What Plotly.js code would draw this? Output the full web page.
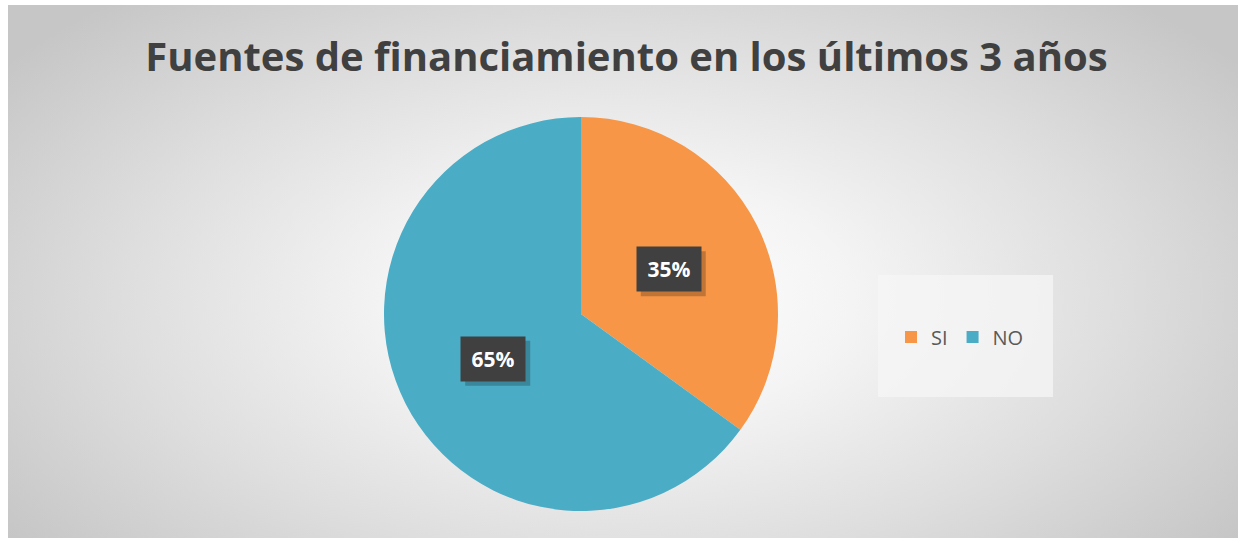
<!DOCTYPE html>
<html>
<head>
<meta charset="utf-8">
<script src="https://cdn.plot.ly/plotly-3.0.1.min.js"></script>
<style>
  html, body { margin: 0; padding: 0; background: #ffffff; }
  #wrap { position: relative; width: 1238px; height: 538px; overflow: hidden; }
  #bg { position: absolute; left: 8px; top: 5px; width: 1230px; height: 533px;
        background: radial-gradient(ellipse 62% 75% at 50% 55%, #ffffff 0%, #f4f4f4 30%, #dedede 65%, #c6c6c6 100%); }
  #chart { position: absolute; left: 0; top: 0; width: 1238px; height: 538px; }
</style>
</head>
<body>
<div id="wrap">
  <div id="bg"></div>
  <div id="chart"></div>
</div>
<script>
const categories = ["SI", "NO"];
const values = [35, 65];
const colors = ["#F79646", "#4BACC6"];
const titleText = "Fuentes de financiamiento en los últimos 3 años";

const W = 1238, H = 538;
const dom = { x: [384 / W, 778 / W], y: [1 - 511 / H, 1 - 117 / H] };

// label annotations computed from data (mid-angle of each slice at half radius)
const total = values.reduce((a, b) => a + b, 0);
const cx = (dom.x[0] + dom.x[1]) / 2 * W;
const cy = (1 - (dom.y[0] + dom.y[1]) / 2) * H;
const R = (dom.x[1] - dom.x[0]) * W / 2;
const annotations = [];
const shapes = [{ type: "rect", xref: "paper", yref: "paper", x0: 878 / W, x1: 1053 / W, y0: 1 - 397 / H, y1: 1 - 275 / H,
                  fillcolor: "rgba(245,245,245,0.75)", line: { width: 0 }, layer: "below" }];
let cum = 0;
values.forEach((v, i) => {
  const mid = (cum + v / 2) / total * 2 * Math.PI;
  cum += v;
  const px = cx + 0.5 * R * Math.sin(mid);
  const py = cy - 0.5 * R * Math.cos(mid);
  const pct = Math.round(v / total * 100) + "%";
  // soft shadow box
  shapes.push({ type: "rect", xref: "paper", yref: "paper", layer: "above",
    x0: (px - 32 + 4) / W, x1: (px + 32 + 5) / W, y0: 1 - (py + 22 + 5) / H, y1: 1 - (py - 22 + 4) / H,
    fillcolor: "rgba(0,0,0,0.22)", line: { width: 0 } });
  annotations.push({ x: px / W, y: 1 - py / H, xref: "paper", yref: "paper", showarrow: false,
                 xanchor: "center", yanchor: "middle",
                 text: pct, borderpad: 9, width: 46, height: 26, bgcolor: "#404040",
                 font: { family: "Open Sans, sans-serif", size: 21, color: "#ffffff", weight: "bold" } });
});

const data = [{
  type: "pie",
  labels: categories,
  values: values,
  sort: false,
  direction: "clockwise",
  rotation: 0,
  textinfo: "none",
  hoverinfo: "label+percent",
  marker: { colors: colors, line: { width: 0 } },
  domain: dom
}];

const layout = {
  width: W, height: H,
  margin: { l: 0, r: 0, t: 0, b: 0 },
  paper_bgcolor: "rgba(0,0,0,0)",
  plot_bgcolor: "rgba(0,0,0,0)",
  title: { text: titleText, x: 0.506, xanchor: "center", y: 1 - 57 / H, yanchor: "middle",
           font: { family: "Open Sans, sans-serif", size: 40, color: "#404040", weight: "bold" } },
  showlegend: true,
  legend: { orientation: "h", x: 891 / W, xanchor: "left", y: 1 - 337 / H, yanchor: "middle",
            bgcolor: "rgba(0,0,0,0)", font: { family: "Open Sans, sans-serif", size: 20, color: "#595959" },
            traceorder: "normal", itemwidth: 30 },
  shapes: shapes,
  annotations: annotations
};

Plotly.newPlot("chart", data, layout, { displayModeBar: false, staticPlot: true });
</script>
</body>
</html>
